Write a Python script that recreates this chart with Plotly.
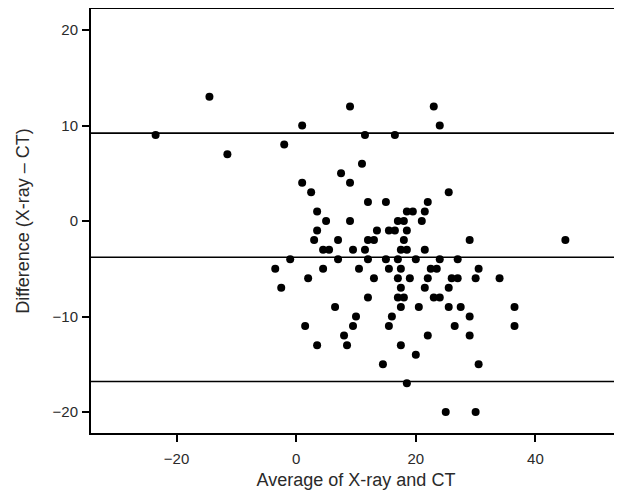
import plotly.graph_objects as go

# Bland-Altman data: average (x) and difference (y)
avg = [-23.5, -14.5, -11.5, 9, 23, 1, 24, 11.5, 16.5, -2, 11, 7.5, 1, 9, 2.5, 25.5,
       12, 15, 22, 3.5, 18.5, 19.5, 21.5, 5, 9, 17, 18, 21,
       3.5, 13.5, 15.5, 16.5, 18.5,
       3, 7, 12, 13, 18, 29, 45,
       4.5, 5.5, 9.5, 11.5, 17.5, 18.5, 21.5,
       -1, 7, 12, 15, 17, 20, 24, 27,
       -3.5, 4.5, 10.5, 15.5, 17.5, 22.5, 23.5, 30.5,
       2, 13, 17, 19, 22, 26, 27, 30, 34,
       -2.5, 17.5, 21.5, 25.5,
       12, 17, 18, 23, 24,
       6.5, 17.5, 20.5, 25.5, 27.5, 36.5,
       10, 16, 29,
       1.5, 9.5, 15.5, 26.5, 36.5,
       8, 22, 29,
       3.5, 8.5, 17.5,
       20, 14.5, 30.5, 18.5, 25, 30]
diff = [9, 13, 7, 12, 12, 10, 10, 9, 9, 8, 6, 5, 4, 4, 3, 3,
        2, 2, 2, 1, 1, 1, 1, 0, 0, 0, 0, 0,
        -1, -1, -1, -1, -1,
        -2, -2, -2, -2, -2, -2, -2,
        -3, -3, -3, -3, -3, -3, -3,
        -4, -4, -4, -4, -4, -4, -4, -4,
        -5, -5, -5, -5, -5, -5, -5, -5,
        -6, -6, -6, -6, -6, -6, -6, -6, -6,
        -7, -7, -7, -7,
        -8, -8, -8, -8, -8,
        -9, -9, -9, -9, -9, -9,
        -10, -10, -10,
        -11, -11, -11, -11, -11,
        -12, -12, -12,
        -13, -13, -13,
        -14, -15, -15, -17, -20, -20]

mean_line = -3.8
upper_loa = 9.2
lower_loa = -16.8

x_ticks = [-20, 0, 20, 40]
y_ticks = [-20, -10, 0, 10, 20]

fig = go.Figure()
fig.add_trace(go.Scatter(x=avg, y=diff, mode="markers",
                         marker=dict(color="black", size=8, line=dict(width=0)),
                         showlegend=False, hoverinfo="x+y"))

for yv in [upper_loa, mean_line, lower_loa]:
    fig.add_hline(y=yv, line=dict(color="black", width=1.6))

font = dict(family="Liberation Sans, Arial, sans-serif", size=15, color="#2a2a2a")

# page body has an 8px default margin, so the figure is sized/offset to compensate
fig.update_layout(
    width=614, height=486,
    margin=dict(l=83, r=1, t=1, b=61),
    paper_bgcolor="white", plot_bgcolor="white",
    font=font,
    xaxis=dict(range=[-34.3, 54.3], tickvals=x_ticks, ticks="outside", ticklen=7,
               tickwidth=1.5, tickcolor="black", showgrid=False, zeroline=False,
               showline=True, linecolor="black", linewidth=2, mirror=True,
               ticklabelstandoff=4,
               title=dict(text="Average of X-ray and CT", standoff=7),
               tickfont=font, automargin=False),
    yaxis=dict(range=[-22.2, 22.2], tickvals=y_ticks, ticks="outside", ticklen=7,
               tickwidth=1.5, tickcolor="black", showgrid=False, zeroline=False,
               showline=True, linecolor="black", linewidth=2, mirror=True,
               ticklabelstandoff=1,
               title=dict(text="Difference (X-ray – CT)", standoff=18),
               tickfont=font, automargin=False),
)

fig.write_html("out.html")
